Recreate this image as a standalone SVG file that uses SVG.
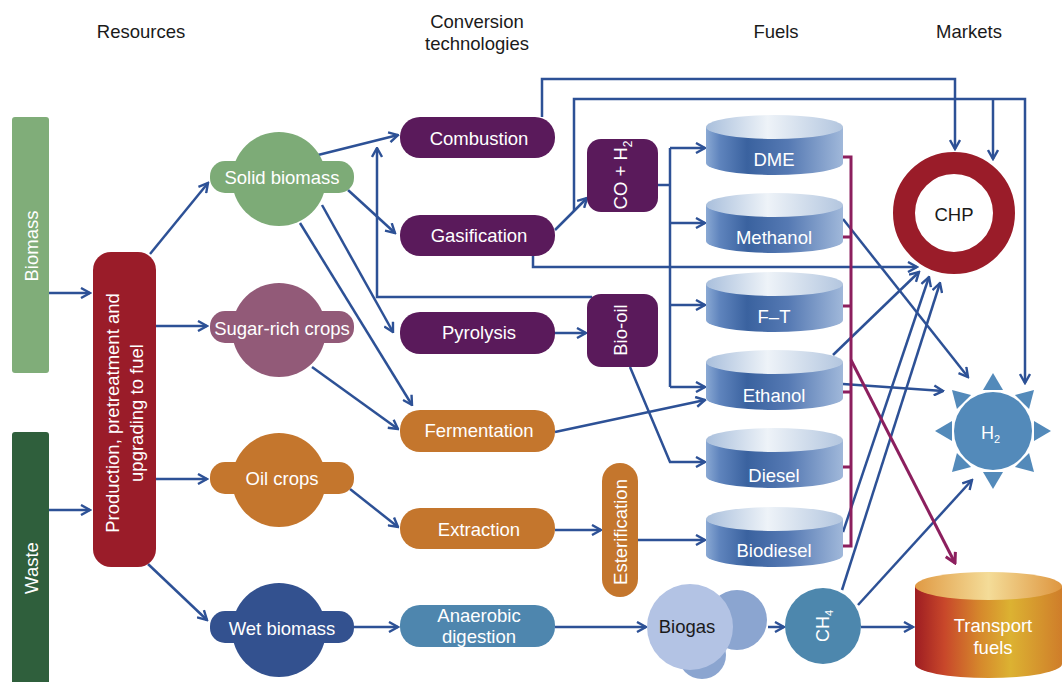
<svg xmlns="http://www.w3.org/2000/svg" width="1062" height="682" viewBox="0 0 1062 682">
<style>
text{font-family:"Liberation Sans",Arial,sans-serif;font-size:18.5px;text-anchor:middle}
.w{fill:#ffffff}
.k{fill:#1a1a1a}
.c{fill:none;stroke:#2d5196;stroke-width:2.5;marker-end:url(#ah)}
.n{fill:none;stroke:#2d5196;stroke-width:2.5}
.m{fill:none;stroke:#8c1f5e;stroke-width:3}
.ma{fill:none;stroke:#8c1f5e;stroke-width:3;marker-end:url(#am)}
.purple{fill:#5a1a5b}
.orange{fill:#c4762d}
</style>
<defs>
<marker id="ah" viewBox="0 0 12 12" refX="10.5" refY="6" markerWidth="12" markerHeight="12" markerUnits="userSpaceOnUse" orient="auto">
<path d="M1.5,1 L10.5,6 L1.5,11" fill="none" stroke="#2d5196" stroke-width="2.4"/>
</marker>
<marker id="am" viewBox="0 0 12 12" refX="10.5" refY="6" markerWidth="13" markerHeight="13" markerUnits="userSpaceOnUse" orient="auto">
<path d="M1.5,1 L10.5,6 L1.5,11" fill="none" stroke="#8c1f5e" stroke-width="2.8"/>
</marker>
<linearGradient id="gBody" x1="0" y1="0" x2="1" y2="0">
<stop offset="0" stop-color="#8aa9d4"/>
<stop offset="0.1" stop-color="#5f84bd"/>
<stop offset="0.3" stop-color="#3a629f"/>
<stop offset="0.6" stop-color="#5579b3"/>
<stop offset="1" stop-color="#a0b8da"/>
</linearGradient>
<linearGradient id="gTop" x1="0" y1="0" x2="1" y2="0">
<stop offset="0" stop-color="#a9bfdc"/>
<stop offset="0.45" stop-color="#eef3f8"/>
<stop offset="1" stop-color="#b3c6df"/>
</linearGradient>
<linearGradient id="tBody" x1="0" y1="0" x2="1" y2="0">
<stop offset="0" stop-color="#9e1d22"/>
<stop offset="0.2" stop-color="#c8472a"/>
<stop offset="0.45" stop-color="#d68a2c"/>
<stop offset="0.65" stop-color="#dcb232"/>
<stop offset="1" stop-color="#cf7d2a"/>
</linearGradient>
<linearGradient id="tTop" x1="0" y1="0" x2="1" y2="0">
<stop offset="0" stop-color="#e09a44"/>
<stop offset="0.5" stop-color="#f4dc98"/>
<stop offset="1" stop-color="#de9640"/>
</linearGradient>
<g id="cyl">
<path d="M0,0 V36 A68.5,12 0 0 0 137,36 V0 Z" fill="url(#gBody)"/>
<ellipse cx="68.5" cy="0" rx="68.5" ry="12" fill="url(#gTop)"/>
</g>
</defs>

<rect width="1062" height="682" fill="#ffffff"/>

<g id="headers" class="k">
<text x="141" y="38" class="k">Resources</text>
<text x="477" y="28" class="k">Conversion</text>
<text x="477" y="50" class="k">technologies</text>
<text x="776" y="38" class="k">Fuels</text>
<text x="969" y="38" class="k">Markets</text>
</g>

<g id="connectors">
<path class="c" d="M49,293 H90"/>
<path class="c" d="M49,510 H90"/>
<path class="c" d="M150,254 L208,183"/>
<path class="c" d="M155,326 H207"/>
<path class="c" d="M155,479 H207"/>
<path class="c" d="M148,564 L207,620"/>
<path class="c" d="M318,155 L398,135"/>
<path class="c" d="M348,190 L395,233"/>
<path class="c" d="M322,205 L393,332"/>
<path class="c" d="M300,223 L412,405"/>
<path class="c" d="M312,367 L398,429"/>
<path class="c" d="M350,489 L398,527"/>
<path class="c" d="M354,627 H398"/>
<path class="c" d="M542,117 V79 H955 V149"/>
<path class="c" d="M555,230 L587,198"/>
<path class="c" d="M574,211 V99 H1025 V383"/>
<path class="c" d="M993,99 V159"/>
<path class="c" d="M533,256 V267 H917"/>
<path class="c" d="M592,297 H377 V148"/>
<path class="c" d="M555,333 H586"/>
<path class="n" d="M658,185 H670"/>
<path class="n" d="M670,148 V387"/>
<path class="c" d="M670,148 H705"/>
<path class="c" d="M670,223 H705"/>
<path class="c" d="M670,305 H705"/>
<path class="c" d="M670,387 H705"/>
<path class="c" d="M555,432 L705,400"/>
<path class="c" d="M630,367 L670,462 H705"/>
<path class="c" d="M555,530 H601"/>
<path class="c" d="M638,540 H705"/>
<path class="c" d="M555,627 H646"/>
<path class="c" d="M768,627 H784"/>
<path class="c" d="M861,627 H913"/>
<path class="c" d="M858,605 L972,480"/>
<path class="c" d="M842,590 L940,283"/>
<path class="c" d="M843,532 L929,277"/>
<path class="c" d="M833,355 L919,272"/>
<path class="c" d="M843,219 L968,377"/>
<path class="c" d="M843,384 L943,391"/>
<path class="m" d="M843,157 H851 V546 H843"/>
<path class="m" d="M843,237 H851 M843,306 H851 M843,392 H851 M843,467 H851"/>
<path class="ma" d="M851,360 L955,563"/>
</g>

<g id="biomass">
<rect x="12" y="117" width="37" height="256" rx="3" fill="#80ad79"/>
<text class="w" x="31" y="252.6" transform="rotate(-90 31 246)">Biomass</text>
</g>
<g id="waste">
<rect x="12" y="432" width="37" height="260" rx="3" fill="#2f5f3c"/>
<text class="w" x="31" y="574.6" transform="rotate(-90 31 568)">Waste</text>
</g>

<g id="production">
<rect x="93" y="252" width="63" height="315" rx="18" fill="#9a1c29"/>
<g transform="rotate(-90 124 413)">
<text class="w" x="124" y="407.5">Production, pretreatment and</text>
<text class="w" x="124" y="431.5">upgrading to fuel</text>
</g>
</g>

<g id="solid-biomass" fill="#7dab77">
<circle cx="279" cy="179" r="47"/>
<rect x="210" y="161" width="144" height="32" rx="15"/>
<text class="w" x="282" y="184">Solid biomass</text>
</g>
<g id="sugar-rich-crops" fill="#925a78">
<circle cx="279" cy="330" r="47"/>
<rect x="210" y="311" width="144" height="32" rx="15"/>
<text class="w" x="282" y="335">Sugar-rich crops</text>
</g>
<g id="oil-crops" fill="#c4762d">
<circle cx="279" cy="480" r="47"/>
<rect x="210" y="462" width="144" height="32" rx="15"/>
<text class="w" x="282" y="485">Oil crops</text>
</g>
<g id="wet-biomass" fill="#33518f">
<circle cx="279" cy="630" r="47"/>
<rect x="210" y="611" width="144" height="32" rx="15"/>
<text class="w" x="282" y="635">Wet biomass</text>
</g>

<g id="combustion">
<rect class="purple" x="400" y="117" width="155" height="41" rx="20"/>
<text class="w" x="479" y="145">Combustion</text>
</g>
<g id="gasification">
<rect class="purple" x="400" y="215" width="155" height="41" rx="20"/>
<text class="w" x="479" y="242">Gasification</text>
</g>
<g id="pyrolysis">
<rect class="purple" x="400" y="312" width="155" height="42" rx="20"/>
<text class="w" x="479" y="339">Pyrolysis</text>
</g>
<g id="fermentation">
<rect class="orange" x="400" y="410" width="155" height="42" rx="20"/>
<text class="w" x="479" y="437">Fermentation</text>
</g>
<g id="extraction">
<rect class="orange" x="400" y="508" width="155" height="41" rx="20"/>
<text class="w" x="479" y="536">Extraction</text>
</g>
<g id="anaerobic-digestion">
<rect x="400" y="605" width="155" height="42" rx="20" fill="#4e86ae"/>
<text class="w" x="479" y="622">Anaerobic</text>
<text class="w" x="479" y="643">digestion</text>
</g>

<g id="co-h2">
<rect class="purple" x="587" y="139" width="71" height="73" rx="14"/>
<text class="w" x="620" y="181.6" transform="rotate(-90 620 175)">CO + H<tspan font-size="12" dy="5">2</tspan></text>
</g>
<g id="bio-oil">
<rect class="purple" x="587" y="294" width="71" height="73" rx="14"/>
<text class="w" x="620" y="336.6" transform="rotate(-90 620 330)">Bio-oil</text>
</g>
<g id="esterification">
<rect class="orange" x="602" y="463" width="36" height="134" rx="18"/>
<text class="w" x="620" y="538.6" transform="rotate(-90 620 532)">Esterification</text>
</g>

<g id="dme">
<use href="#cyl" x="706" y="127"/>
<text class="w" x="774" y="166">DME</text>
</g>
<g id="methanol">
<use href="#cyl" x="706" y="205"/>
<text class="w" x="774" y="244">Methanol</text>
</g>
<g id="ft">
<use href="#cyl" x="706" y="284"/>
<text class="w" x="774" y="323">F–T</text>
</g>
<g id="ethanol">
<use href="#cyl" x="706" y="362"/>
<text class="w" x="774" y="402">Ethanol</text>
</g>
<g id="diesel">
<use href="#cyl" x="706" y="440"/>
<text class="w" x="774" y="482">Diesel</text>
</g>
<g id="biodiesel">
<use href="#cyl" x="706" y="519"/>
<text class="w" x="774" y="557">Biodiesel</text>
</g>

<g id="biogas">
<circle cx="737" cy="620" r="30" fill="#8ba5d0"/>
<circle cx="702" cy="655" r="24" fill="#8ba5d0"/>
<circle cx="690" cy="627" r="43" fill="#b3c3e4"/>
<text class="k" x="687" y="633">Biogas</text>
</g>

<g id="ch4">
<circle cx="823" cy="626" r="38" fill="#4d87ad"/>
<text class="w" style="font-size:18px" x="823" y="632.4" transform="rotate(-90 823 626)">CH<tspan font-size="11" dy="4">4</tspan></text>
</g>

<g id="chp">
<circle cx="954" cy="213" r="50" fill="#ffffff" stroke="#9a1c29" stroke-width="22"/>
<text class="k" x="954" y="221">CHP</text>
</g>

<g id="h2" fill="#538aba">
<circle cx="993" cy="431" r="39"/>
<polygon points="993,373 983,390 1003,390"/>
<polygon points="993,373 983,390 1003,390" transform="rotate(45 993 431)"/>
<polygon points="993,373 983,390 1003,390" transform="rotate(90 993 431)"/>
<polygon points="993,373 983,390 1003,390" transform="rotate(135 993 431)"/>
<polygon points="993,373 983,390 1003,390" transform="rotate(180 993 431)"/>
<polygon points="993,373 983,390 1003,390" transform="rotate(225 993 431)"/>
<polygon points="993,373 983,390 1003,390" transform="rotate(270 993 431)"/>
<polygon points="993,373 983,390 1003,390" transform="rotate(315 993 431)"/>
<text class="w" style="font-size:18px;text-anchor:start" x="981" y="439">H<tspan font-size="11" dy="4">2</tspan></text>
</g>

<g id="transport-fuels">
<path d="M915,586 V664 A73.5,14 0 0 0 1062,664 V586 Z" fill="url(#tBody)"/>
<ellipse cx="988.5" cy="586" rx="73.5" ry="14" fill="url(#tTop)"/>
<text class="w" x="993" y="632">Transport</text>
<text class="w" x="993" y="654">fuels</text>
</g>
</svg>
